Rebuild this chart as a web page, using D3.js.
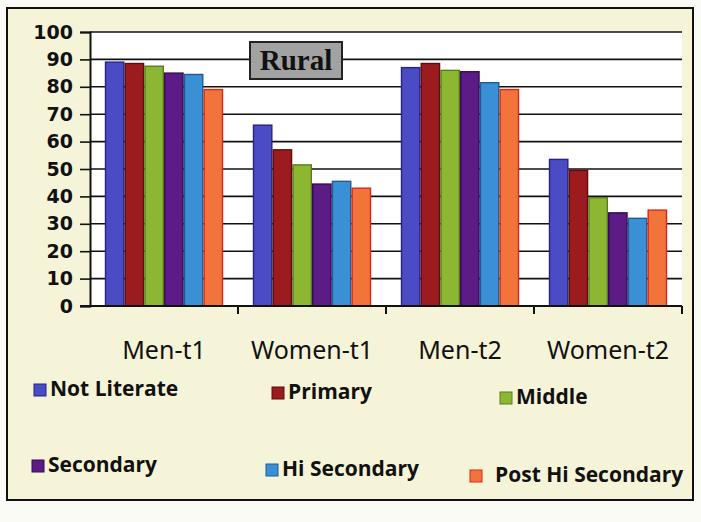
<!DOCTYPE html>
<head>
  <script src="https://d3js.org/d3.v7.min.js"></script>
  <style>
    body { margin: 0; background: #fbfbf6; }
    svg { display: block; }
  </style>
</head>
<body>
  <svg id="chart"></svg>
</body>

<script>

    // data
    var categories = ["Men-t1", "Women-t1", "Men-t2", "Women-t2"];
    var series = ["Not Literate", "Primary", "Middle", "Secondary", "Hi Secondary", "Post Hi Secondary"];
    var notLiterate = [89, 66, 87, 53.5];
    var primary = [88.5, 57, 88.5, 49.5];
    var middle = [87.5, 51.5, 86, 39.5];
    var secondary = [85, 44.5, 85.5, 34];
    var hiSecondary = [84.5, 45.5, 81.5, 32];
    var postHiSecondary = [79, 43, 79, 35];
    var yTicks = [0, 10, 20, 30, 40, 50, 60, 70, 80, 90, 100];

    var values = [notLiterate, primary, middle, secondary, hiSecondary, postHiSecondary];
    var colors = ["#4b4cc4", "#9c1b1f", "#8db733", "#5b1c86", "#3b8fd4", "#f2743a"];
    var edges = ["#23238a", "#5e0c0e", "#5a7c1c", "#330c52", "#1f5c92", "#d82818"];

    var width = 701, height = 522;
    var svg = d3.select('#chart').attr('width', width).attr('height', height);

    // outer chart frame (cream)
    svg.append('rect')
      .attr('x', 7).attr('y', 8).attr('width', 686).attr('height', 492)
      .attr('fill', '#f6f4d8').attr('stroke', '#111').attr('stroke-width', 2);

    var plot = {left: 90, top: 32, right: 682, bottom: 306};

    svg.append('rect')
      .attr('x', plot.left).attr('y', plot.top)
      .attr('width', plot.right - plot.left).attr('height', plot.bottom - plot.top)
      .attr('fill', '#ffffff');

    var y = d3.scaleLinear().domain([0, 100]).range([plot.bottom, plot.top]);
    var x0 = d3.scaleBand().domain(categories).range([plot.left, plot.right])
      .paddingInner(0.2).paddingOuter(0.1);
    var x1 = d3.scaleBand().domain(series).range([0, x0.bandwidth()]);

    // gridlines
    svg.append('g').selectAll('line')
      .data(yTicks.filter(function (d) { return d > 0; }))
      .enter().append('line')
      .attr('x1', plot.left).attr('x2', plot.right)
      .attr('y1', function (d) { return y(d); }).attr('y2', function (d) { return y(d); })
      .attr('stroke', '#111').attr('stroke-width', 1.6);

    // y axis
    var yAxis = svg.append('g')
      .attr('transform', 'translate(' + plot.left + ',0)')
      .call(d3.axisLeft(y).tickValues(yTicks).tickSize(10).tickPadding(7));
    yAxis.select('.domain').attr('stroke', '#111').attr('stroke-width', 2);
    yAxis.selectAll('.tick line').attr('stroke', '#111').attr('stroke-width', 1.6);
    yAxis.selectAll('text')
      .attr('fill', '#111')
      .style('font-family', 'DejaVu Sans').style('font-weight', 'bold').style('font-size', '19px');

    // bars
    var groups = svg.append('g').selectAll('g')
      .data(categories)
      .enter().append('g')
      .attr('transform', function (d) { return 'translate(' + x0(d) + ',0)'; });

    groups.selectAll('rect')
      .data(function (c, ci) {
        return series.map(function (s, si) { return {s: s, si: si, v: values[si][ci]}; });
      })
      .enter().append('rect')
      .attr('x', function (d) { return x1(d.s) + 0.7; })
      .attr('width', x1.bandwidth() - 1.4)
      .attr('y', function (d) { return y(d.v); })
      .attr('height', function (d) { return y(0) - y(d.v); })
      .attr('fill', function (d) { return colors[d.si]; })
      .attr('stroke', function (d) { return edges[d.si]; })
      .attr('stroke-width', 1.4);

    // x axis
    var xAxis = svg.append('g')
      .attr('transform', 'translate(0,' + plot.bottom + ')');
    xAxis.append('line')
      .attr('x1', plot.left - 10).attr('x2', plot.right)
      .attr('stroke', '#111').attr('stroke-width', 2);
    xAxis.selectAll('.sep')
      .data(categories.slice(1).concat(['end']))
      .enter().append('line')
      .attr('x1', function (d) { return d === 'end' ? plot.right : x0(d) - x0.step() * x0.paddingInner() / 2; })
      .attr('x2', function (d) { return d === 'end' ? plot.right : x0(d) - x0.step() * x0.paddingInner() / 2; })
      .attr('y1', 0).attr('y2', 8)
      .attr('stroke', '#111').attr('stroke-width', 2);

    svg.append('g').selectAll('text')
      .data(categories)
      .enter().append('text')
      .attr('x', function (d) { return x0(d) + x0.bandwidth() / 2; })
      .attr('y', 359)
      .attr('text-anchor', 'middle')
      .attr('fill', '#111')
      .style('font-family', 'Noto Sans').style('font-size', '25px')
      .text(function (d) { return d; });

    // title box
    svg.append('rect')
      .attr('x', 250).attr('y', 42).attr('width', 92).attr('height', 37)
      .attr('fill', '#a2a2a2').attr('stroke', '#222').attr('stroke-width', 2);
    svg.append('text')
      .attr('x', 296).attr('y', 70)
      .attr('text-anchor', 'middle')
      .attr('fill', '#111')
      .style('font-family', 'Liberation Serif').style('font-weight', 'bold').style('font-size', '29px')
      .text('Rural');

    // legend
    var legendPos = [[34, 396], [272, 399], [500, 404], [32, 472], [266, 476], [470, 482]];
    var legend = svg.append('g').selectAll('g')
      .data(series)
      .enter().append('g')
      .attr('transform', function (d, i) { return 'translate(' + legendPos[i][0] + ',' + legendPos[i][1] + ')'; });
    legend.append('rect')
      .attr('x', 0).attr('y', -12).attr('width', 12).attr('height', 12)
      .attr('fill', function (d, i) { return colors[i]; })
      .attr('stroke', function (d, i) { return edges[i]; });
    legend.append('text')
      .attr('x', function (d, i) { return i === 5 ? 25 : 16; })
      .attr('y', 0)
      .attr('fill', '#111')
      .style('font-family', 'Open Sans').style('font-weight', 'bold').style('font-size', '21px')
      .text(function (d) { return d; });

</script>
